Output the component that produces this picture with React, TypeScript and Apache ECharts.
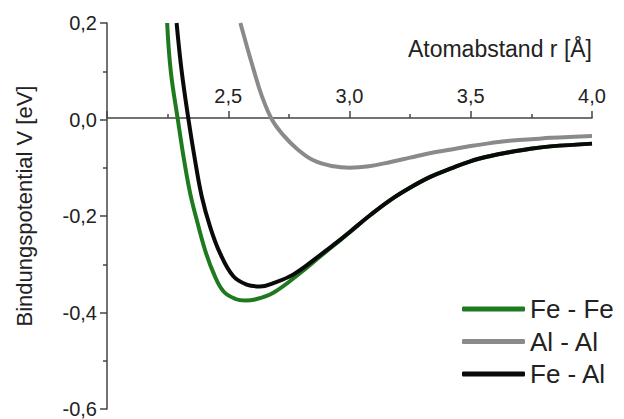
import React, { useEffect, useRef } from "react";
import * as echarts from "echarts";

const seriesNames = ["Fe - Fe", "Al - Al", "Fe - Al"];

const feFeR = [2.248, 2.263, 2.292, 2.318, 2.343, 2.37, 2.404, 2.439, 2.48, 2.53, 2.57, 2.61, 2.686, 2.797, 2.879, 2.962, 3.003, 3.086, 3.168, 3.251, 3.333, 3.416, 3.498, 3.581, 3.663, 3.746, 3.828, 4.0];
const feFeV = [0.2, 0.1, 0, -0.0845, -0.153, -0.208, -0.27, -0.318, -0.356, -0.372, -0.375, -0.373, -0.359, -0.318, -0.284, -0.25, -0.233, -0.198, -0.167, -0.141, -0.119, -0.102, -0.0866, -0.0756, -0.0674, -0.0605, -0.0557, -0.05];

const alAlR = [2.55, 2.576, 2.604, 2.638, 2.68, 2.728, 2.783, 2.851, 2.934, 3.0, 3.08, 3.17, 3.25, 3.33, 3.42, 3.5, 3.58, 3.66, 3.75, 3.83, 4.0];
const alAlV = [0.2, 0.153, 0.1045, 0.0495, 0, -0.033, -0.0605, -0.0845, -0.097, -0.1, -0.097, -0.088, -0.079, -0.07, -0.062, -0.055, -0.049, -0.044, -0.041, -0.038, -0.034];

const feAlR = [2.287, 2.308, 2.336, 2.363, 2.391, 2.425, 2.466, 2.521, 2.576, 2.631, 2.686, 2.769, 2.879, 2.962, 3.003, 3.086, 3.168, 3.251, 3.333, 3.416, 3.498, 3.581, 3.663, 3.746, 3.828, 4.0];
const feAlV = [0.2, 0.1, 0, -0.0845, -0.16, -0.222, -0.277, -0.325, -0.342, -0.346, -0.339, -0.321, -0.281, -0.249, -0.232, -0.198, -0.167, -0.141, -0.119, -0.102, -0.0866, -0.0756, -0.0674, -0.0605, -0.0557, -0.05];

const xTicks = { min: 2.0, max: 4.0, interval: 0.5 };
const yTicks = { min: -0.6, max: 0.2, interval: 0.2 };

const xTitle = "Atomabstand r [Å]";
const yTitle = "Bindungspotential V [eV]";

const colors = ["#1f7a1f", "#8a8a8a", "#0a0a0a"];
const FONT = "'Liberation Sans', Arial, Helvetica, sans-serif";

const pairs = (r: number[], v: number[]) => r.map((x, i) => [x, v[i]]);
const fmt = (v: number) => v.toFixed(1).replace(".", ",");

export default function App() {
  const ref = useRef<HTMLDivElement>(null);
  useEffect(() => {
    if (!ref.current) return;
    const chart = echarts.init(ref.current, null, { renderer: "svg" });
    const data = [pairs(feFeR, feFeV), pairs(alAlR, alAlV), pairs(feAlR, feAlV)];
    const gridTop = 23;
    const gridH = 388;
    // lift the x axis onto the zero line of the y scale
    const zeroOffset = -gridH * (0 - yTicks.min) / (yTicks.max - yTicks.min);
    chart.setOption({
      animation: false,
      backgroundColor: "#ffffff",
      grid: { left: 107, top: gridTop, width: 485, height: gridH },
      legend: {
        orient: "vertical",
        left: 462,
        top: 295,
        padding: 0,
        itemWidth: 63,
        itemHeight: 5,
        itemGap: 4.5,
        icon: "roundRect",
        textStyle: { fontFamily: FONT, fontSize: 26, color: "#222", lineHeight: 28 },
        data: seriesNames,
      },
      xAxis: {
        type: "value",
        position: "bottom",
        offset: zeroOffset,
        min: xTicks.min,
        max: xTicks.max,
        interval: xTicks.interval,
        axisLine: { onZero: false, lineStyle: { color: "#444", width: 1.5 } },
        axisTick: { inside: true, length: 7, lineStyle: { color: "#444", width: 1.5 } },
        minorTick: { show: true, splitNumber: 2, length: 4, lineStyle: { color: "#444", width: 1.5 } },
        axisLabel: {
          inside: true,
          margin: 12,
          fontFamily: FONT,
          fontSize: 20,
          color: "#222",
          formatter: (v: number) => (Math.abs(v - 2) < 1e-9 ? "" : fmt(v)),
        },
        splitLine: { show: false },
      },
      yAxis: {
        type: "value",
        min: yTicks.min,
        max: yTicks.max,
        interval: yTicks.interval,
        axisLine: { show: true, lineStyle: { color: "#444", width: 1.5 } },
        axisTick: { show: true, length: 7, lineStyle: { color: "#444", width: 1.5 } },
        minorTick: { show: true, splitNumber: 2, length: 4, lineStyle: { color: "#444", width: 1.5 } },
        axisLabel: { margin: 10, fontFamily: FONT, fontSize: 20, color: "#222", formatter: fmt },
        splitLine: { show: false },
      },
      graphic: [
        {
          type: "text",
          x: 592,
          y: 49,
          style: { text: xTitle, fontFamily: FONT, fontSize: 23, fill: "#222", align: "right", verticalAlign: "middle" },
        },
        {
          type: "text",
          x: 24,
          y: 206,
          rotation: Math.PI / 2,
          style: { text: yTitle, fontFamily: FONT, fontSize: 22, fill: "#222", align: "center", verticalAlign: "middle" },
        },
      ],
      series: seriesNames.map((name, i) => ({
        name,
        type: "line",
        data: data[i],
        smooth: 0.4,
        symbol: "none",
        z: i === 2 ? 4 : 2,
        itemStyle: { color: colors[i] },
        lineStyle: { color: colors[i], width: 4 },
      })),
    });
    return () => chart.dispose();
  }, []);
  return <div ref={ref} style={{ position: "fixed", left: 0, top: 0, width: 624, height: 419 }} />;
}
